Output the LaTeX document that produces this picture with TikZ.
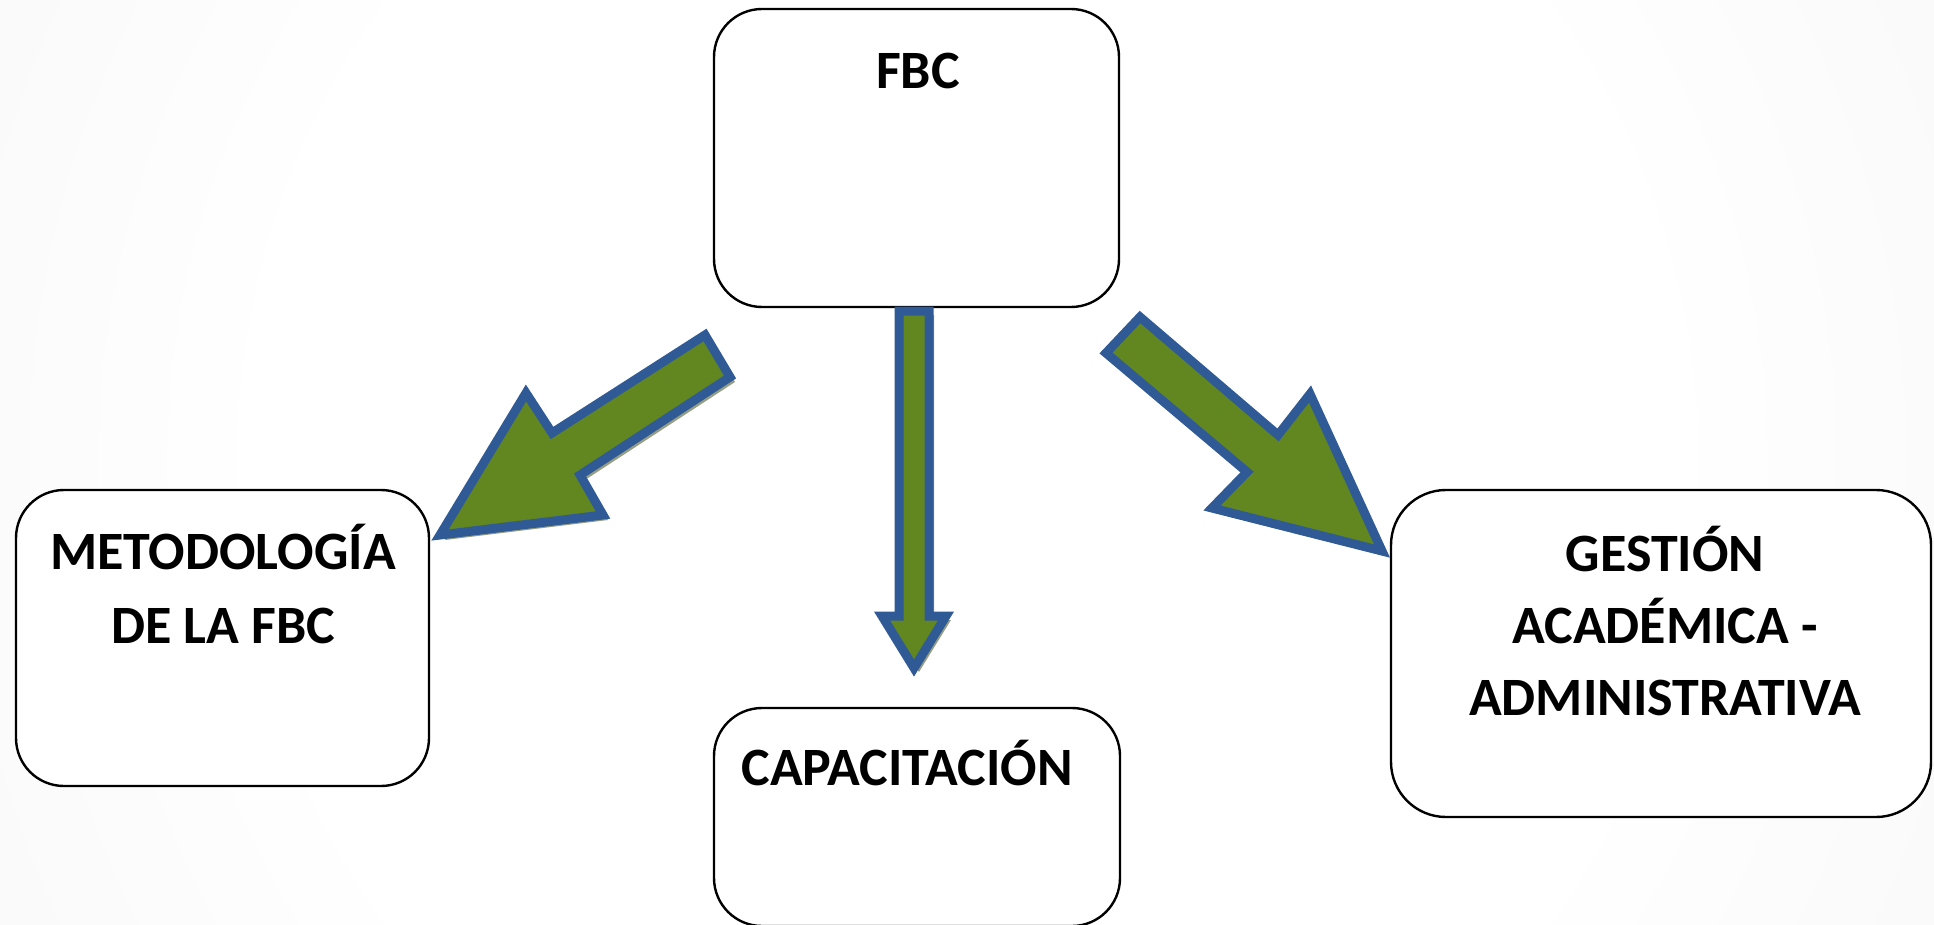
\documentclass[tikz,border=0pt]{standalone}
\usepackage{fontspec}
\setmainfont{Carlito}
\usetikzlibrary{calc}
\definecolor{arrowgreen}{RGB}{99,135,32}
\definecolor{arrowblue}{RGB}{47,90,150}
\definecolor{arrowshadow}{RGB}{150,158,132}
\pgfdeclareradialshading{bgshade}{\pgfpoint{0bp}{0bp}}{color(0bp)=(white); color(18bp)=(white); color(50bp)=(black!7); color(70bp)=(black!9)}
\begin{document}
\begin{tikzpicture}[x=1pt,y=-1pt,
  box/.style={draw=black, line width=2.4pt, fill=white, rounded corners=48pt, inner sep=0pt},
  lbl/.style={font=\fontsize{54}{64}\selectfont\bfseries, anchor=base, inner sep=0pt},
  blockarrow/.style={fill=arrowgreen, draw=arrowblue, line width=9pt, line join=miter, miter limit=10},
  arrowshade/.style={fill=arrowshadow}]
\useasboundingbox (0,0) rectangle (1934,925);
\shade[shading=bgshade] (0,-550) rectangle (1934,1475);

% boxes
\node[box, minimum width=405pt, minimum height=298pt] (fbc) at (916.5,158) {};
\node[lbl] (fbct) at (918,89) {FBC};

\node[box, minimum width=406pt, minimum height=218pt] (cap) at (917,817) {};
\node[lbl] (capt) at (907,785) {CAPACITACIÓN};

\node[box, minimum width=413pt, minimum height=296pt] (met) at (222.5,638) {};
\node[lbl] (mett1) at (223,569) {METODOLOGÍA};
\node[lbl] (mett2) at (223,643) {DE LA FBC};

\node[box, minimum width=540pt, minimum height=327pt, rounded corners=55pt] (ges) at (1661,653.5) {};
\node[lbl] (gest1) at (1665,571) {GESTIÓN};
\node[lbl] (gest2) at (1665,643) {ACADÉMICA -};
\node[lbl] (gest3) at (1665,715) {ADMINISTRATIVA};

% left block arrow (FBC -> Metodologia)
\fill[arrowshade, shift={(5,5)}] (705,335) -- (730,377) -- (580,475) -- (603,515) -- (440,535) -- (526,393) -- (552,433) -- cycle;
\filldraw[blockarrow] (705,335) -- (730,377) -- (580,475) -- (603,515) -- (440,535) -- (526,393) -- (552,433) -- cycle;

% middle block arrow (FBC -> Capacitacion)
\fill[arrowshade, shift={(5,4)}] (899,311) -- (929,311) -- (929,616) -- (946,616) -- (914,668) -- (882,616) -- (899,616) -- cycle;
\filldraw[blockarrow] (899,311) -- (929,311) -- (929,616) -- (946,616) -- (914,668) -- (882,616) -- (899,616) -- cycle;

% right block arrow (FBC -> Gestion)
\fill[arrowshade, shift={(3,5)}] (1140,317) -- (1278,435) -- (1310,394) -- (1382,551) -- (1212,508) -- (1247,472) -- (1106,353) -- cycle;
\filldraw[blockarrow] (1140,317) -- (1278,435) -- (1310,394) -- (1382,551) -- (1212,508) -- (1247,472) -- (1106,353) -- cycle;
\end{tikzpicture}
\end{document}
